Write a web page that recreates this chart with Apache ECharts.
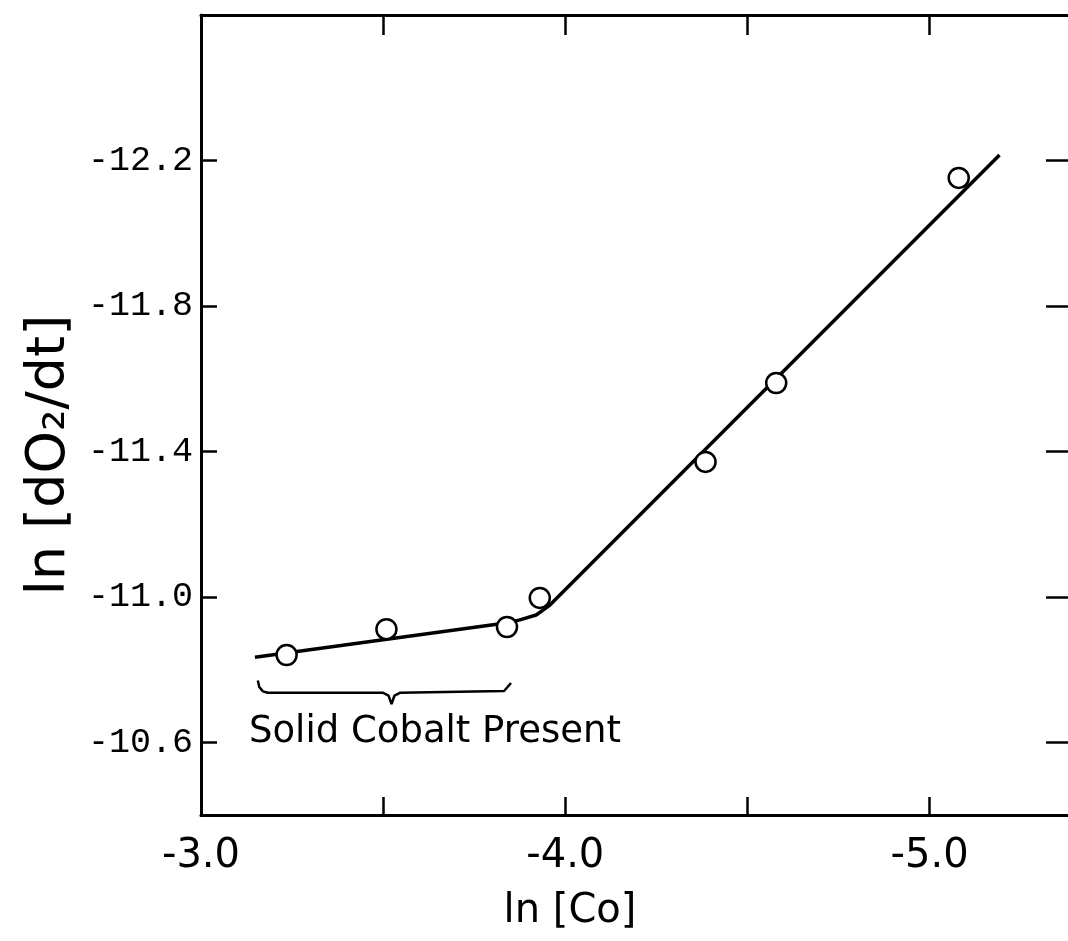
<!DOCTYPE html>
<html>
<head>
<meta charset="utf-8">
<script src="https://cdn.jsdelivr.net/npm/echarts@6/dist/echarts.min.js"></script>
<style>
  html, body { margin: 0; padding: 0; background: #fff; }
  #main { width: 1068px; height: 941px; }
</style>
</head>
<body>
<div id="main"></div>
<script>
// measured points, ln[Co] vs ln[dO2/dt]
const lnCo = [-3.235, -3.509, -3.840, -3.930, -4.385, -4.579, -5.080];
const lnRate = [-10.840, -10.911, -10.917, -10.997, -11.371, -11.588, -12.152];

// hand drawn fit line (two branches with a kink near -3.95)
const fitX = [-3.148, -3.837, -3.873, -3.920, -3.955, -5.192];
const fitY = [-10.834, -10.928, -10.936, -10.950, -10.975, -12.215];

// brace under the "solid cobalt" branch
const braceX = [-3.156, -3.160, -3.170, -3.183, -3.500, -3.515, -3.523, -3.531, -3.546, -3.832, -3.851];
const braceY = [-10.770, -10.752, -10.740, -10.736, -10.736, -10.728, -10.705, -10.728, -10.736, -10.741, -10.763];

const xTicks = [-3.5, -4.0, -4.5, -5.0];
const xLabels = [-3.0, -4.0, -5.0];
const yTicks = [-12.2, -11.8, -11.4, -11.0, -10.6];

const sans = "'DejaVu Sans', sans-serif";
const mono = "'Liberation Mono', 'DejaVu Sans Mono', monospace";

let pair = (xs, ys) => xs.map((x, i) => [x, ys[i]]);

let chart = echarts.init(document.getElementById('main'));

let axisLine = {show: true, lineStyle: {color: '#000', width: 3}};

let option = {
    backgroundColor: '#fff',
    animation: false,
    grid: {left: 201, top: 15, right: -3, bottom: 126},
    xAxis: [
        {
            type: 'value',
            min: -5.38,
            max: -3.0,
            inverse: true,
            position: 'bottom',
            axisLine: axisLine,
            axisTick: {show: true, inside: true, length: 18, customValues: xTicks, lineStyle: {color: '#000', width: 2.5}},
            axisLabel: {
                customValues: xLabels,
                margin: 22,
                fontFamily: sans,
                fontSize: 40,
                color: '#000',
                formatter: (v) => v.toFixed(1)
            },
            splitLine: {show: false}
        },
        {
            type: 'value',
            min: -5.38,
            max: -3.0,
            inverse: true,
            position: 'top',
            axisLine: axisLine,
            axisTick: {show: true, inside: true, length: 20, customValues: xTicks, lineStyle: {color: '#000', width: 2.5}},
            axisLabel: {show: false},
            splitLine: {show: false}
        }
    ],
    yAxis: [
        {
            type: 'value',
            min: -12.6,
            max: -10.4,
            inverse: true,
            position: 'left',
            axisLine: axisLine,
            axisTick: {show: true, inside: true, length: 16, customValues: yTicks, lineStyle: {color: '#000', width: 2.5}},
            axisLabel: {
                customValues: yTicks,
                margin: 8,
                fontFamily: mono,
                fontSize: 35,
                color: '#000',
                formatter: (v) => v.toFixed(1)
            },
            splitLine: {show: false}
        },
        {
            // right frame is cut off in the scan, only its ticks show
            type: 'value',
            min: -12.6,
            max: -10.4,
            inverse: true,
            position: 'right',
            axisLine: {show: false},
            axisTick: {show: true, inside: true, length: 22, customValues: yTicks, lineStyle: {color: '#000', width: 2.5}},
            axisLabel: {show: false},
            splitLine: {show: false}
        }
    ],
    graphic: [
        {
            type: 'text',
            left: 249,
            top: 714,
            style: {text: 'Solid Cobalt Present', font: "37px 'DejaVu Sans', sans-serif", fill: '#000'}
        },
        {
            // x axis title, sits under -4.0 in the original
            type: 'text',
            x: 570,
            y: 912,
            style: {text: 'ln [Co]', font: "40px 'DejaVu Sans', sans-serif", fill: '#000', align: 'center', verticalAlign: 'middle'}
        },
        {
            // y axis title
            type: 'text',
            x: 50,
            y: 455,
            rotation: Math.PI / 2,
            style: {text: 'ln [dO\u2082/dt]', font: "54px 'DejaVu Sans', sans-serif", fill: '#000', align: 'center', verticalAlign: 'middle'}
        }
    ],
    series: [
        {
            name: 'fit',
            type: 'line',
            data: pair(fitX, fitY),
            showSymbol: false,
            smooth: false,
            lineStyle: {color: '#000', width: 3.5},
            z: 2
        },
        {
            name: 'brace',
            type: 'line',
            data: pair(braceX, braceY),
            showSymbol: false,
            lineStyle: {color: '#000', width: 2.5},
            z: 2
        },
        {
            name: 'rate',
            type: 'scatter',
            data: pair(lnCo, lnRate),
            symbol: 'circle',
            symbolSize: 20,
            itemStyle: {color: '#fff', borderColor: '#000', borderWidth: 2.5, opacity: 1},
            z: 3
        }
    ]
};

chart.setOption(option);
</script>
</body>
</html>
